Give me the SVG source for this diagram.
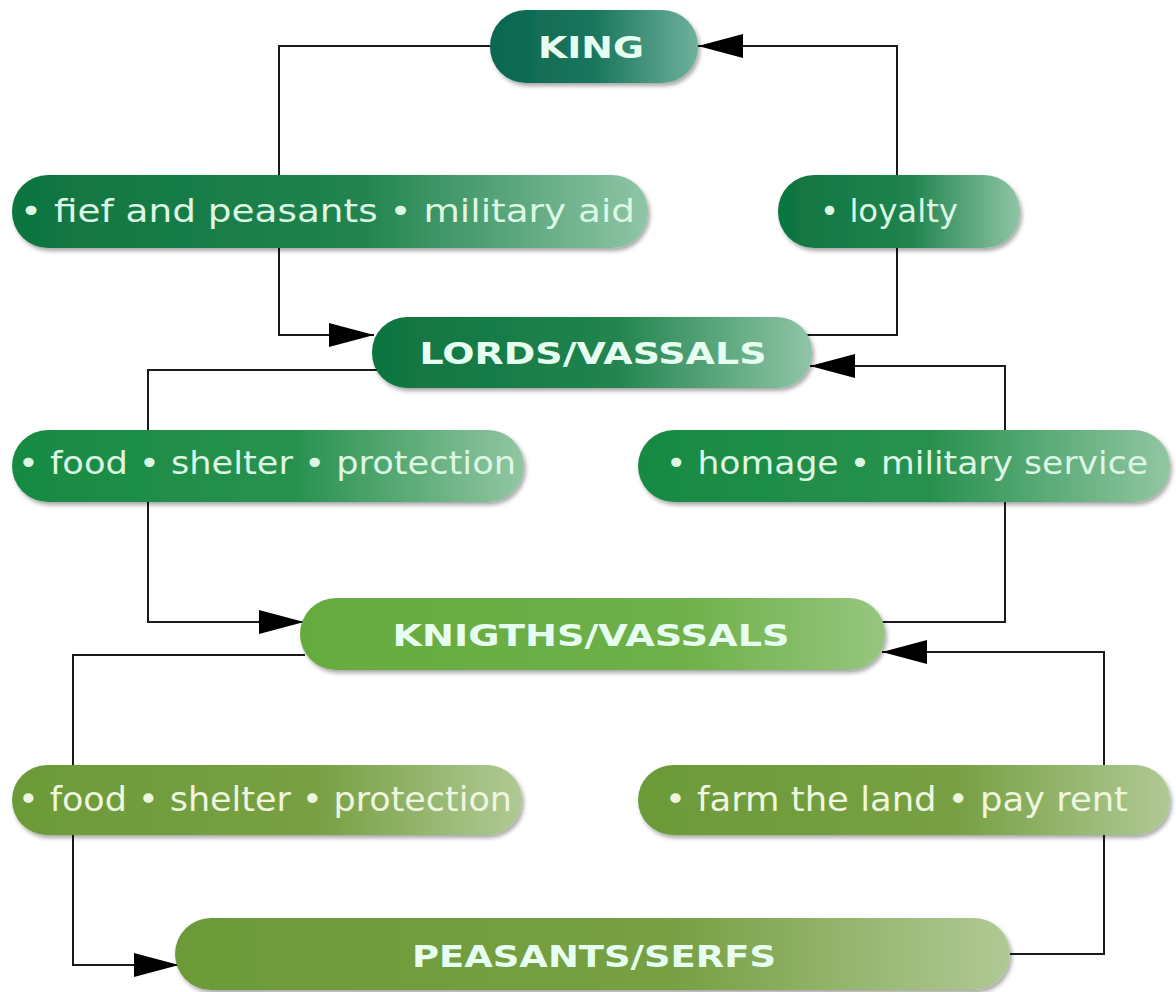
<svg xmlns="http://www.w3.org/2000/svg" width="1176" height="992" viewBox="0 0 1176 992">
<style>
.conn{fill:none;stroke:#1a1a1a;stroke-width:2}
.bold{font-family:"DejaVu Sans",Verdana,sans-serif;font-weight:bold;font-size:31px;fill:#e6fff0}
.lbl{font-family:"DejaVu Sans",Verdana,sans-serif;font-size:32px;fill:#dcf7e4}
.lbl2{font-family:"DejaVu Sans Condensed","DejaVu Sans",sans-serif;font-size:34px;fill:#eef6df}
</style>
<defs>
<linearGradient id="gKing" x1="0" x2="1" y1="0" y2="0"><stop offset="0" stop-color="#0b6650"/><stop offset="0.5" stop-color="#1a765d"/><stop offset="1" stop-color="#6fb09c"/></linearGradient>
<linearGradient id="gL1" x1="0" x2="1" y1="0" y2="0"><stop offset="0" stop-color="#0f7440"/><stop offset="0.55" stop-color="#21844f"/><stop offset="1" stop-color="#8fc5a6"/></linearGradient>
<linearGradient id="gL2" x1="0" x2="1" y1="0" y2="0"><stop offset="0" stop-color="#178a42"/><stop offset="0.55" stop-color="#28914f"/><stop offset="1" stop-color="#92c6a3"/></linearGradient>
<linearGradient id="gKn" x1="0" x2="1" y1="0" y2="0"><stop offset="0" stop-color="#66ab40"/><stop offset="0.65" stop-color="#6eb049"/><stop offset="1" stop-color="#96c67e"/></linearGradient>
<linearGradient id="gL3" x1="0" x2="1" y1="0" y2="0"><stop offset="0" stop-color="#6c9a38"/><stop offset="0.6" stop-color="#78a044"/><stop offset="1" stop-color="#b0c995"/></linearGradient>
<filter id="sh" x="-5%" y="-20%" width="110%" height="150%"><feDropShadow dx="2" dy="3" stdDeviation="2" flood-color="#000" flood-opacity="0.35"/></filter>
<marker id="arr" markerUnits="userSpaceOnUse" markerWidth="46" markerHeight="26" refX="45" refY="12" orient="auto" viewBox="0 0 46 26"><path d="M0,0 L45,12 L0,24 z" fill="#000"/></marker>
</defs>
<g id="connectors">
<path class="conn" d="M490,46 H279 V335 H374" marker-end="url(#arr)"/>
<path class="conn" d="M806,335 H897 V46 H698" marker-end="url(#arr)"/>
<path class="conn" d="M378,370 H148 V622 H304" marker-end="url(#arr)"/>
<path class="conn" d="M880,622 H1005 V366 H810" marker-end="url(#arr)"/>
<path class="conn" d="M305,655 H73 V965 H179" marker-end="url(#arr)"/>
<path class="conn" d="M1005,954 H1104 V652 H882" marker-end="url(#arr)"/>
</g>
<g id="king"><rect x="490" y="10" width="208" height="73" rx="36" fill="url(#gKing)" filter="url(#sh)"/><text class="bold" x="591" y="58" text-anchor="middle" textLength="106" lengthAdjust="spacingAndGlyphs">KING</text></g>
<g id="fief"><rect x="12" y="175" width="636" height="73" rx="36" fill="url(#gL1)" filter="url(#sh)"/><text class="lbl" x="20" y="222" textLength="615" lengthAdjust="spacingAndGlyphs">• fief and peasants • military aid</text></g>
<g id="loyalty"><rect x="778" y="175" width="242" height="73" rx="36" fill="url(#gL1)" filter="url(#sh)"/><text class="lbl" x="820" y="222" textLength="138" lengthAdjust="spacingAndGlyphs">• loyalty</text></g>
<g id="lords"><rect x="372" y="317" width="440" height="71" rx="35" fill="url(#gL1)" filter="url(#sh)"/><text class="bold" x="593" y="364" text-anchor="middle" textLength="347" lengthAdjust="spacingAndGlyphs">LORDS/VASSALS</text></g>
<g id="food1"><rect x="12" y="430" width="512" height="72" rx="36" fill="url(#gL2)" filter="url(#sh)"/><text class="lbl" x="18" y="474" textLength="498" lengthAdjust="spacingAndGlyphs">• food • shelter • protection</text></g>
<g id="homage"><rect x="638" y="430" width="532" height="72" rx="36" fill="url(#gL2)" filter="url(#sh)"/><text class="lbl" x="666" y="474" textLength="482" lengthAdjust="spacingAndGlyphs">• homage • military service</text></g>
<g id="knights"><rect x="300" y="598" width="585" height="72" rx="36" fill="url(#gKn)" filter="url(#sh)"/><text class="bold" x="591" y="646" text-anchor="middle" textLength="397" lengthAdjust="spacingAndGlyphs">KNIGTHS/VASSALS</text></g>
<g id="food2"><rect x="12" y="765" width="510" height="70" rx="35" fill="url(#gL3)" filter="url(#sh)"/><text class="lbl2" x="18" y="811" textLength="494" lengthAdjust="spacingAndGlyphs">• food • shelter • protection</text></g>
<g id="farm"><rect x="638" y="765" width="532" height="70" rx="35" fill="url(#gL3)" filter="url(#sh)"/><text class="lbl2" x="665" y="811" textLength="463" lengthAdjust="spacingAndGlyphs">• farm the land • pay rent</text></g>
<g id="peasants"><rect x="175" y="918" width="835" height="72" rx="36" fill="url(#gL3)" filter="url(#sh)"/><text class="bold" x="594" y="967" text-anchor="middle" textLength="364" lengthAdjust="spacingAndGlyphs">PEASANTS/SERFS</text></g>
</svg>
